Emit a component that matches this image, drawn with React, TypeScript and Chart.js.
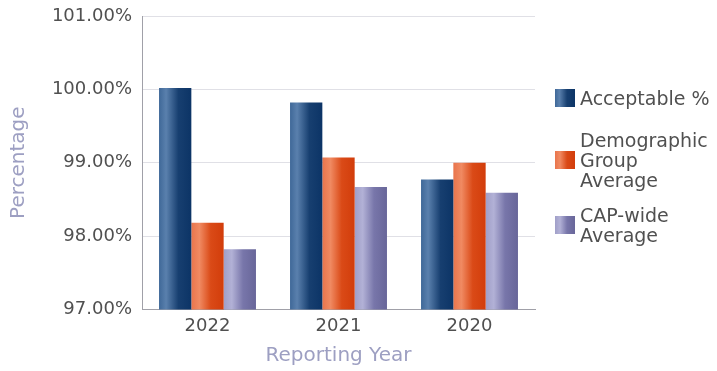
import React, { useEffect, useRef } from "react";
import { Chart, registerables } from "chart.js";

Chart.register(...registerables);

const categories = ["2022", "2021", "2020"];
const acceptable = [100.02, 99.82, 98.77];
const demographicAvg = [98.18, 99.07, 99.0];
const capWideAvg = [97.82, 98.67, 98.59];
const yTicks = [97, 98, 99, 100, 101];

const seriesNames = ["Acceptable %", ["Demographic", "Group", "Average"], ["CAP-wide", "Average"]];

const CAT_PCT = 0.74;
const FONT = "'DejaVu Sans', Verdana, sans-serif";

const blueStops: [number, string][] = [
  [0, "#3f6898"],
  [0.22, "#5a80ad"],
  [0.6, "#173f70"],
  [1, "#0c3466"],
];
const orangeStops: [number, string][] = [
  [0, "#e9754c"],
  [0.25, "#f08a62"],
  [0.6, "#da4a17"],
  [1, "#d23d0b"],
];
const purpleStops: [number, string][] = [
  [0, "#a09fc8"],
  [0.25, "#b2b1d6"],
  [0.6, "#7876aa"],
  [1, "#686699"],
];

function cssGrad(stops: [number, string][]) {
  return "linear-gradient(to right, " + stops.map(([o, c]) => `${c} ${o * 100}%`).join(", ") + ")";
}

function grad(stops: [number, string][]) {
  return (ctx: any) => {
    const fallback = stops[stops.length - 1][1];
    const chart = ctx.chart;
    const xs = chart.scales && chart.scales.x;
    if (!xs || ctx.dataIndex === undefined || ctx.datasetIndex === undefined) return fallback;
    const n = chart.data.datasets.length;
    const catW = (xs.right - xs.left) / chart.data.labels.length;
    const groupW = catW * CAT_PCT;
    const barW = groupW / n;
    const center = xs.getPixelForValue(ctx.dataIndex);
    const left = center - groupW / 2 + ctx.datasetIndex * barW;
    if (!isFinite(left) || !isFinite(barW) || barW <= 0) return fallback;
    const g = chart.ctx.createLinearGradient(left, 0, left + barW, 0);
    stops.forEach(([o, c]) => g.addColorStop(o, c));
    return g;
  };
}

export default function App() {
  const canvasRef = useRef<HTMLCanvasElement | null>(null);

  useEffect(() => {
    if (!canvasRef.current) return;
    const chart = new Chart(canvasRef.current, {
      type: "bar",
      data: {
        labels: categories,
        datasets: [
          { label: "Acceptable %", data: acceptable, backgroundColor: grad(blueStops) as any },
          { label: "Demographic Group Average", data: demographicAvg, backgroundColor: grad(orangeStops) as any },
          { label: "CAP-wide Average", data: capWideAvg, backgroundColor: grad(purpleStops) as any },
        ],
      },
      options: {
        responsive: false,
        animation: false,
        devicePixelRatio: 1,
        events: [],
        layout: { padding: { top: 16, right: 182, bottom: 3, left: 0 } },
        datasets: { bar: { categoryPercentage: CAT_PCT, barPercentage: 1, borderWidth: 0 } } as any,
        plugins: { legend: { display: false }, tooltip: { enabled: false } },
        scales: {
          x: {
            grid: { display: false, drawTicks: false },
            border: { display: true, color: "#a0a0a8", width: 1 },
            ticks: { color: "#505050", font: { family: FONT, size: 18 }, padding: 6 },
            title: {
              display: true,
              text: "Reporting Year",
              color: "#9d9fc2",
              font: { family: FONT, size: 20 },
              padding: { top: 1, bottom: 0 },
            },
          },
          y: {
            min: yTicks[0],
            max: yTicks[yTicks.length - 1],
            afterBuildTicks: (scale: any) => {
              scale.ticks = yTicks.map((v) => ({ value: v }));
            },
            afterFit: (scale: any) => {
              scale.width = 142;
              scale.paddingTop = 0;
              scale.paddingBottom = 0;
            },
            grid: { color: "#e0e0e6", drawTicks: false },
            border: { display: true, color: "#a0a0a8", width: 1 },
            ticks: {
              color: "#505050",
              font: { family: FONT, size: 18 },
              padding: 10,
              callback: (v: any) => Number(v).toFixed(2) + "%",
            },
            title: {
              display: true,
              text: "Percentage",
              color: "#9d9fc2",
              font: { family: FONT, size: 20 },
              padding: { top: 7, bottom: 0 },
            },
          },
        },
      },
    });
    chart.update();
    return () => chart.destroy();
  }, []);

  const stopsList = [blueStops, orangeStops, purpleStops];
  const tops = [88, 130, 205];

  return (
    <div
      style={{
        position: "fixed",
        left: 0,
        top: 0,
        width: 717,
        height: 371,
        background: "#ffffff",
        overflow: "hidden",
      }}
    >
      <canvas ref={canvasRef} width={717} height={371} style={{ width: 717, height: 371, display: "block" }} />
      {seriesNames.map((name, i) => {
        const lines = Array.isArray(name) ? name : [name];
        return (
          <div
            key={i}
            style={{
              position: "absolute",
              left: 555,
              top: tops[i],
              display: "flex",
              alignItems: "center",
              fontFamily: FONT,
              fontSize: 19,
              lineHeight: "20px",
              color: "#505050",
              whiteSpace: "nowrap",
            }}
          >
            <div style={{ width: 20, height: 18, background: cssGrad(stopsList[i]), marginRight: 5, flex: "none" }} />
            <div>
              {lines.map((l, j) => (
                <div key={j}>{l}</div>
              ))}
            </div>
          </div>
        );
      })}
    </div>
  );
}
